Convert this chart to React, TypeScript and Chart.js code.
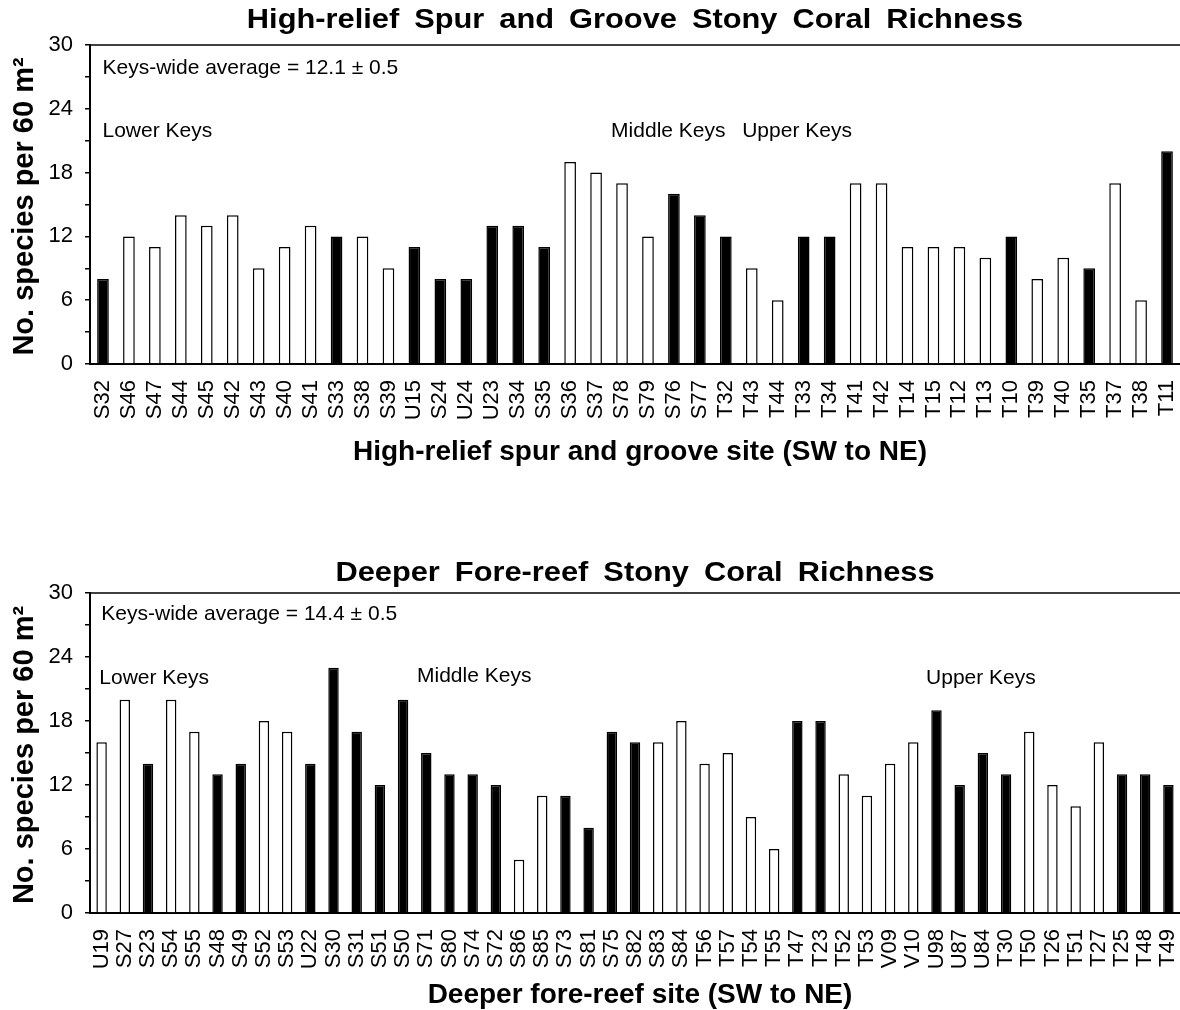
import React, { useEffect, useRef } from 'react';
import { Chart, registerables } from 'chart.js';

Chart.register(...registerables);

const FONT = '"Liberation Sans", Arial, Helvetica, sans-serif';

// ---------- Data ----------
const spurSites = ['S32','S46','S47','S44','S45','S42','S43','S40','S41','S33','S38','S39','U15','S24','U24','U23','S34','S35','S36','S37','S78','S79','S76','S77','T32','T43','T44','T33','T34','T41','T42','T14','T15','T12','T13','T10','T39','T40','T35','T37','T38','T11'];
const spurRichness = [8,12,11,14,13,14,9,11,13,12,12,9,11,8,8,13,13,11,19,18,17,12,16,14,12,9,6,12,12,17,17,11,11,11,10,12,8,10,9,17,6,20];
const spurFilled = [1,0,0,0,0,0,0,0,0,1,0,0,1,1,1,1,1,1,0,0,0,0,1,1,1,0,0,1,1,0,0,0,0,0,0,1,0,0,1,0,0,1];

const deepSites = ['U19','S27','S23','S54','S55','S48','S49','S52','S53','U22','S30','S31','S51','S50','S71','S80','S74','S72','S86','S85','S73','S81','S75','S82','S83','S84','T56','T57','T54','T55','T47','T23','T52','T53','V09','V10','U98','U87','U84','T30','T50','T26','T51','T27','T25','T48','T49'];
const deepRichness = [16,20,14,20,17,13,14,18,17,14,23,17,12,20,15,13,13,12,5,11,11,8,17,16,16,18,14,15,9,6,18,18,13,11,14,16,19,12,15,13,17,12,10,16,13,13,12];
const deepFilled = [0,0,1,0,0,1,1,0,0,1,1,1,1,1,1,1,1,1,0,0,1,1,1,1,0,0,0,0,0,0,1,1,0,0,0,0,1,1,1,1,0,0,0,0,1,1,1];

const yLabelTicks = [0, 6, 12, 18, 24, 30];

const spurTitle = 'High-relief Spur and Groove Stony Coral Richness';
const spurXTitle = 'High-relief spur and groove site (SW to NE)';
const deepTitle = 'Deeper Fore-reef Stony Coral Richness';
const deepXTitle = 'Deeper fore-reef site (SW to NE)';
const yTitle = 'No. species per 60 m\u00B2';

// annotation: text, category position (left edge), y value (middle)
const spurNotes: [string, number, number][] = [
  ['Keys-wide average = 12.1 \u00B1 0.5', -0.02, 27.8],
  ['Lower Keys', -0.02, 21.9],
  ['Middle Keys', 19.58, 21.9],
  ['Upper Keys', 24.63, 21.9],
];
const deepNotes: [string, number, number][] = [
  ['Keys-wide average = 14.4 \u00B1 0.5', -0.01, 28.0],
  ['Lower Keys', -0.1, 22.0],
  ['Middle Keys', 13.6, 22.2],
  ['Upper Keys', 35.55, 22.0],
];

type Cfg = {
  sites: string[];
  values: number[];
  filled: number[];
  title: string;
  xTitle: string;
  notes: [string, number, number][];
  height: number;
  top: number;
  bottom: number;
  titleBaseline: number;
  xTitleBaseline: number;
};

// draw words with custom spacing and a slight horizontal stretch
function drawSpaced(ctx: CanvasRenderingContext2D, text: string, cx: number, y: number, spaceW: number, stretch: number) {
  const words = text.split(' ');
  const widths = words.map((w) => ctx.measureText(w).width * stretch);
  const total = widths.reduce((a, b) => a + b, 0) + spaceW * (words.length - 1);
  let x = cx - total / 2;
  ctx.textAlign = 'left';
  words.forEach((w, i) => {
    ctx.save();
    ctx.translate(x, y);
    ctx.scale(stretch, 1);
    ctx.fillText(w, 0, 0);
    ctx.restore();
    x += widths[i] + spaceW;
  });
}

function makeChart(canvas: HTMLCanvasElement, cfg: Cfg) {
  const textPlugin = {
    id: 'textPlugin',
    afterDraw(chart: any) {
      const { ctx, chartArea: a } = chart;
      const xs = chart.scales.x;
      const ys = chart.scales.y;
      ctx.save();
      // top frame line
      ctx.strokeStyle = '#000';
      ctx.lineWidth = 1.5;
      ctx.beginPath();
      ctx.moveTo(a.left, a.top);
      ctx.lineTo(a.right, a.top);
      ctx.stroke();

      ctx.fillStyle = '#000';
      ctx.textBaseline = 'alphabetic';
      const cx = (a.left + a.right) / 2;
      // chart title
      ctx.font = `bold 28px ${FONT}`;
      drawSpaced(ctx, cfg.title, cx, cfg.titleBaseline, 15, 1.1);
      // x title
      ctx.font = `bold 28px ${FONT}`;
      ctx.textAlign = 'center';
      ctx.fillText(cfg.xTitle, cx + 5, cfg.xTitleBaseline);
      // y title
      ctx.save();
      ctx.translate(33, (a.top + a.bottom) / 2 + 2);
      ctx.rotate(-Math.PI / 2);
      ctx.font = `bold 29px ${FONT}`;
      ctx.textAlign = 'center';
      ctx.fillText(yTitle, 0, 0);
      ctx.restore();
      // annotations
      ctx.font = `21px ${FONT}`;
      ctx.textAlign = 'left';
      ctx.textBaseline = 'middle';
      cfg.notes.forEach(([t, xv, yv]) => {
        ctx.fillText(t, xs.getPixelForValue(xv), ys.getPixelForValue(yv));
      });
      ctx.restore();
    },
  };

  return new Chart(canvas, {
    type: 'bar',
    data: {
      labels: cfg.sites,
      datasets: [
        {
          data: cfg.values,
          backgroundColor: cfg.filled.map((f) => (f ? '#000' : '#fff')),
          borderColor: '#000',
          borderWidth: 1.5,
          barPercentage: 0.45,
          categoryPercentage: 1,
        },
      ],
    },
    options: {
      animation: false,
      responsive: false,
      maintainAspectRatio: false,
      devicePixelRatio: 1,
      layout: { padding: { top: cfg.top, left: 0, right: 0, bottom: 0 } },
      plugins: {
        legend: { display: false },
        tooltip: { enabled: false },
        title: { display: false },
      },
      scales: {
        x: {
          type: 'category',
          offset: true,
          grid: { display: false, drawTicks: false },
          border: { display: true, color: '#000', width: 2 },
          ticks: {
            color: '#000',
            font: { family: FONT, size: 22 },
            minRotation: 90,
            maxRotation: 90,
            autoSkip: false,
            padding: 16,
          },
          afterFit(s: any) {
            s.height = cfg.height - cfg.bottom;
            s.paddingLeft = 0;
            s.paddingRight = 0;
          },
        },
        y: {
          type: 'linear',
          min: 0,
          max: 30,
          grid: {
            display: true,
            drawOnChartArea: false,
            drawTicks: true,
            tickLength: 5,
            color: '#000',
            lineWidth: 1.5,
          },
          border: { display: true, color: '#000', width: 2 },
          ticks: {
            stepSize: 3,
            autoSkip: false,
            color: '#000',
            font: { family: FONT, size: 22 },
            padding: 12,
            callback: (v: any) => (yLabelTicks.includes(Number(v)) ? String(v) : ''),
          },
          afterFit(s: any) {
            s.width = 90;
          },
        },
      },
    },
    plugins: [textPlugin],
  } as any);
}

function BarPanel({ cfg }: { cfg: Cfg }) {
  const ref = useRef<HTMLCanvasElement>(null);
  useEffect(() => {
    if (!ref.current) return;
    const chart = makeChart(ref.current, cfg);
    return () => chart.destroy();
  }, [cfg]);
  return <canvas ref={ref} width={1180} height={cfg.height} style={{ display: 'block', width: 1180, height: cfg.height }} />;
}

const spurCfg: Cfg = {
  sites: spurSites,
  values: spurRichness,
  filled: spurFilled,
  title: spurTitle,
  xTitle: spurXTitle,
  notes: spurNotes,
  height: 500,
  top: 45,
  bottom: 364,
  titleBaseline: 28,
  xTitleBaseline: 460,
};

const deepCfg: Cfg = {
  sites: deepSites,
  values: deepRichness,
  filled: deepFilled,
  title: deepTitle,
  xTitle: deepXTitle,
  notes: deepNotes,
  height: 510,
  top: 93,
  bottom: 413,
  titleBaseline: 81,
  xTitleBaseline: 503,
};

export default function App() {
  return (
    <div style={{ position: 'absolute', left: 0, top: 0, width: 1180, height: 1010, background: '#fff' }}>
      <BarPanel cfg={spurCfg} />
      <BarPanel cfg={deepCfg} />
    </div>
  );
}
